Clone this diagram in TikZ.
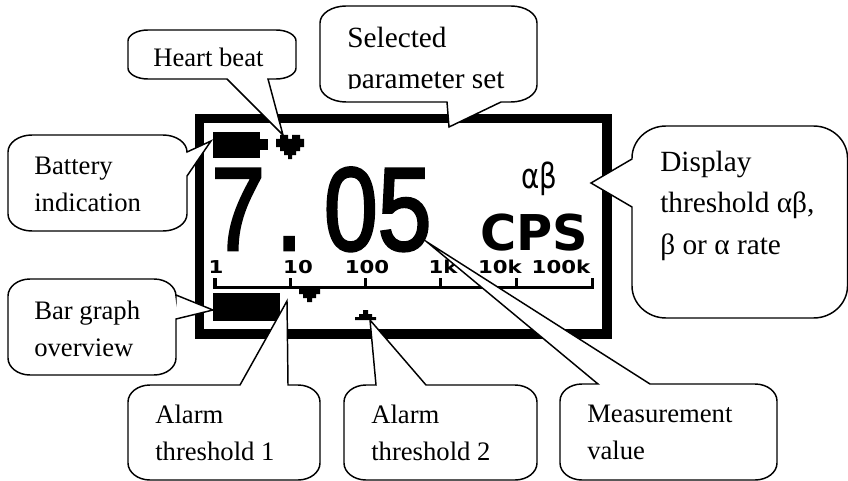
\documentclass[tikz,border=0pt]{standalone}
\usepackage{graphicx}
\usepackage{fontspec}
\setmainfont{Liberation Serif}
\newfontfamily\lcdbig[FakeBold=2.5]{Liberation Sans}
\newfontfamily\lcdbold{DejaVu Sans Bold}
\newfontfamily\lcdthin{DejaVu Sans}
\def\parsebox#1,#2,#3,#4,#5,#6\relax{\def\xa{#1}\def\ya{#2}\def\xb{#3}\def\yb{#4}\def\rx{#5}\def\ry{#6}}
\newcommand\callout[5]{%
  \parsebox#1\relax
  \pgfmathsetmacro\xal{\xa+\rx}\pgfmathsetmacro\xbl{\xb-\rx}
  \pgfmathsetmacro\yal{\ya+\ry}\pgfmathsetmacro\ybl{\yb-\ry}
  \pgfmathsetmacro\xac{\xa+.45*\rx}\pgfmathsetmacro\xbc{\xb-.45*\rx}
  \pgfmathsetmacro\yac{\ya+.45*\ry}\pgfmathsetmacro\ybc{\yb-.45*\ry}
  \draw[calloutline] (\xal,\ya) #2 -- (\xbl,\ya)
    .. controls (\xbc,\ya) and (\xb,\yac) .. (\xb,\yal) #3 -- (\xb,\ybl)
    .. controls (\xb,\ybc) and (\xbc,\yb) .. (\xbl,\yb) #4 -- (\xal,\yb)
    .. controls (\xac,\yb) and (\xa,\ybc) .. (\xa,\ybl) #5 -- (\xa,\yal)
    .. controls (\xa,\yac) and (\xac,\ya) .. (\xal,\ya) -- cycle;}
\tikzset{
  calloutline/.style={draw=black,fill=white,line width=1.1pt,miter limit=20},
  note/.style={anchor=north west,inner sep=0pt,align=left,font=\fontsize{20}{27.8}\selectfont},
  bignote/.style={anchor=north west,inner sep=0pt,align=left,font=\fontsize{22}{30.9}\selectfont},
  lcdmark/.style={fill=black,draw=none},
  scaletext/.style={anchor=base,inner sep=0pt,font=\lcdbold\fontsize{13.3}{14}\selectfont},
}
\begin{document}
\begin{tikzpicture}[x=.75pt,y=-.75pt]
\useasboundingbox (0,0) rectangle (848,481);
% display
\draw[line width=7.2pt] (199.5,118.5) rectangle (607,334);
\fill[lcdmark] (213,132) rectangle (260,158);
\fill[lcdmark] (260,139) rectangle (268,150);
\fill[lcdmark] (280,135)--(288,135)--(288,139)--(292,139)--(292,135)--(300,135)--(300,139)--(304,139)--(304,147)--(300,147)--(300,151)--(296,151)--(296,155)--(292,155)--(292,159)--(288,159)--(288,155)--(284,155)--(284,151)--(280,151)--(280,147)--(276,147)--(276,139)--(280,139)--cycle;
\node[anchor=base west,inner sep=0pt,font=\lcdbig\fontsize{88.5}{90}\selectfont] (value) at (211,250) {\scalebox{.82}[1]{7\kern.11em.\kern.22em05}};
\node[anchor=base west,inner sep=0pt,font=\lcdthin\fontsize{26}{28}\selectfont] (abtext) at (521,188) {\scalebox{.8}[1]{αβ}};
\node[anchor=base west,inner sep=0pt,font=\lcdbold\fontsize{37}{40}\selectfont] (cps) at (480,250) {CPS};
\node[scaletext] (t1) at (216,273) {\scalebox{1.2}[1]{1}};
\node[scaletext] (t10) at (298,273) {\scalebox{1.2}[1]{10}};
\node[scaletext] (t100) at (367,273) {\scalebox{1.2}[1]{100}};
\node[scaletext] (t1k) at (443,273) {\scalebox{1.2}[1]{1k}};
\node[scaletext] (t10k) at (500,273) {\scalebox{1.2}[1]{10k}};
\node[scaletext] (t100k) at (561,273) {\scalebox{1.2}[1]{100k}};
\fill[lcdmark] (213,285.5) rectangle (594,289);
\foreach \tx in {213,288.5,363.5,438.5,514.5,590.5}{\fill[lcdmark] (\tx,278) rectangle (\tx+3.5,289);}
\fill[lcdmark] (213,293) rectangle (280,321);
\fill[lcdmark] (299,289)--(320,289)--(320,294)--(316,294)--(316,298)--(312,298)--(312,302)--(307,302)--(307,298)--(303,298)--(303,294)--(299,294)--cycle;
\fill[lcdmark] (363,310)--(368,310)--(368,314)--(372,314)--(372,317)--(376,317)--(376,320)--(355,320)--(355,317)--(359,317)--(359,314)--(363,314)--cycle;
% callouts
\callout{128,30,296,79,20,11}{}{}{-- (268,79) -- (283,135) -- (227,79)}{}
\node[note] (heart) at (153,48) {Heart beat};
\callout{320,6,537,102,26,17}{}{}{-- (501,102) -- (449,127) -- (447,102)}{}
\node[bignote] (sel) at (347,27) {Selected\\parameter set};
\fill[white] (340,89) rectangle (500,99);
\callout{8,135,187,231,24,17}{}{-- (187,152) -- (211,141) -- (187,176)}{}{}
\node[note] (batt) at (34,157) {Battery\\indication};
\callout{8,279,176,375,22,17}{}{-- (176,295) -- (213,310) -- (176,319)}{}{}
\node[note] (bar) at (34,301) {Bar graph\\overview};
\callout{128,385,320,480,22,17}{-- (240,385) -- (287,301) -- (288,385)}{}{}{}
\node[note] (al1) at (155,405) {Alarm\\threshold 1};
\callout{344,385,537,480,22,17}{-- (376,385) -- (370,320) -- (426,385)}{}{}{}
\node[note] (al2) at (371,405) {Alarm\\threshold 2};
\callout{560,384,777,480,22,17}{-- (598,384) -- (427,242) -- (650,384)}{}{}{}
\node[note] (meas) at (587,405) {Measurement\\value};
\callout{632,126,847.5,318,34,32}{}{}{}{-- (632,207) -- (591,183) -- (632,159)}
\node[bignote] (disp) at (660,151) {Display\\threshold αβ,\\β or α rate};
\end{tikzpicture}
\end{document}
